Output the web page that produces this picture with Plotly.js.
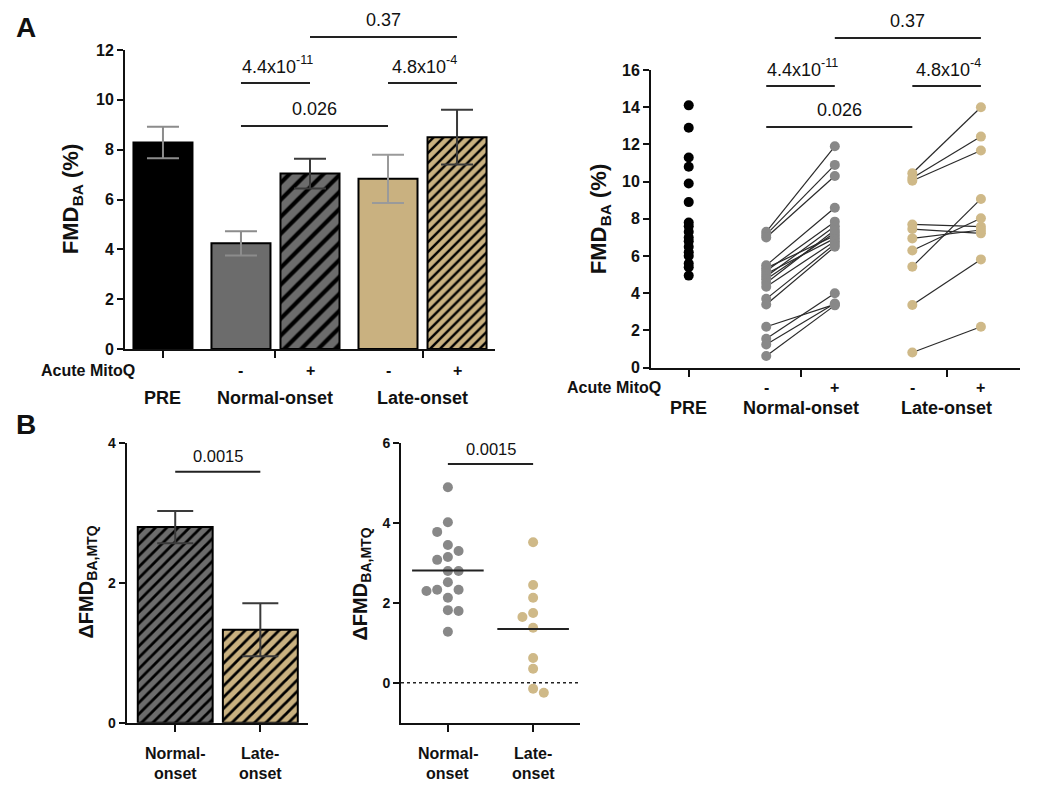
<!DOCTYPE html>
<html>
<head>
<meta charset="utf-8">
<script src="https://cdn.plot.ly/plotly-3.0.1.min.js"></script>
<style>html,body{margin:0;padding:0;background:#fff;}#chart{width:1048px;height:790px;}</style>
</head>
<body>
<div id="chart"></div>
<script>
// ---------------- DATA ----------------
const barGroups = ['PRE', 'Normal-onset', 'Normal-onset', 'Late-onset', 'Late-onset'];
const barMitoQ = ['', '-', '+', '-', '+'];
const barMeans = [8.29, 4.24, 7.04, 6.83, 8.50];
const barSEM = [0.63, 0.49, 0.60, 0.97, 1.10];

const preFMD = [14.1, 12.9, 11.3, 10.8, 9.9, 8.9, 7.8, 7.6, 7.3, 7.0, 6.8, 6.5, 6.2, 6.0, 5.6, 5.4, 4.95];
const normalMinus = [7.3, 7.15, 7.0, 5.5, 5.35, 5.2, 5.05, 4.9, 4.75, 4.55, 4.35, 3.7, 3.4, 2.2, 1.55, 1.25, 0.63];
const normalPlus = [11.9, 10.9, 10.3, 8.6, 7.1, 7.85, 6.95, 7.6, 7.25, 7.4, 6.8, 6.65, 6.5, 3.4, 4.0, 3.45, 3.35];
const lateMinus = [10.45, 10.2, 10.05, 7.7, 7.45, 6.95, 6.3, 5.43, 3.37, 0.82];
const latePlus = [14.0, 12.42, 11.67, 7.58, 7.22, 7.4, 8.03, 9.07, 5.82, 2.2];

const deltaGroupLines = [['Normal-', 'onset'], ['Late-', 'onset']];
const deltaBarMeans = [2.80, 1.33];
const deltaBarSEM = [0.23, 0.38];
const deltaNormal = [4.9, 4.02, 3.78, 3.45, 3.3, 3.15, 3.08, 2.8, 2.8, 2.52, 2.33, 2.33, 2.3, 2.13, 1.82, 1.8, 1.28];
const deltaLate = [3.52, 2.45, 2.13, 1.75, 1.65, 1.38, 0.62, 0.35, -0.15, -0.25];

// p-values: [base text, superscript]
const pA = [['0.37', ''], ['4.4x10', '-11'], ['4.8x10', '-4'], ['0.026', '']];
const pB = '0.0015';

// ---------------- LAYOUT HELPERS ----------------
const W = 1048, H = 790;
const FONT = 'Arial, "Liberation Sans", Helvetica, sans-serif';
const px = v => v / W;
const py = v => 1 - v / H;
const ctx = document.createElement('canvas').getContext('2d');
function textW(t, size, bold) { ctx.font = (bold ? 'bold ' : '') + size + 'px ' + FONT; return ctx.measureText(t).width; }

const xPos = [0, 1.13, 2.13, 3.26, 4.26];
const groupTick = [0, (xPos[1] + xPos[2]) / 2, (xPos[3] + xPos[4]) / 2];
const groupNames = ['PRE', 'Normal-onset', 'Late-onset'];
const pPairs = [[2, 4], [1, 2], [3, 4], [1, 3]];

const GRAY = '#6c6c6c', TAN = '#c9b180';
const GRAYDOT = '#888888', TANDOT = '#cfb988';
const barFill = ['#000000', GRAY, GRAY, TAN, TAN];
const barPattern = [0, 0, 12, 0, 7];
const errCol = ['#8c8c8c', '#8c8c8c', '#3a3a3a', '#9a9a9a', '#3a3a3a'];

const traces = [];
// Panel A left bars
for (let i = 0; i < barMeans.length; i++) {
  const m = {color: barFill[i], line: {color: '#000', width: 2}};
  if (barPattern[i]) m.pattern = {shape: '/', fgcolor: '#000', bgcolor: barFill[i], size: barPattern[i], solidity: 0.35, fillmode: 'replace'};
  traces.push({type: 'bar', x: [xPos[i]], y: [barMeans[i]], width: 0.855, xaxis: 'x', yaxis: 'y',
    marker: m, error_y: {type: 'data', array: [barSEM[i]], visible: true, color: errCol[i], thickness: 2, width: 16},
    showlegend: false, hoverinfo: 'skip'});
}
// Panel A right paired lines
function pairLines(a, b, xa, xb, axx, axy) {
  const xs = [], ys = [];
  for (let i = 0; i < a.length; i++) { xs.push(xa, xb, null); ys.push(a[i], b[i], null); }
  return {type: 'scatter', mode: 'lines', x: xs, y: ys, xaxis: axx, yaxis: axy,
    line: {color: '#2a2a2a', width: 1.2}, showlegend: false, hoverinfo: 'skip'};
}
traces.push(pairLines(normalMinus, normalPlus, xPos[1], xPos[2], 'x2', 'y2'));
traces.push(pairLines(lateMinus, latePlus, xPos[3], xPos[4], 'x2', 'y2'));
function dots(vals, xv, col, axx, axy, size) {
  return {type: 'scatter', mode: 'markers', x: vals.map(() => xv), y: vals, xaxis: axx, yaxis: axy,
    marker: {color: col, size: size}, cliponaxis: false, showlegend: false, hoverinfo: 'skip'};
}
traces.push(dots(preFMD, xPos[0], '#000', 'x2', 'y2', 10));
traces.push(dots(normalMinus, xPos[1], GRAYDOT, 'x2', 'y2', 10));
traces.push(dots(normalPlus, xPos[2], GRAYDOT, 'x2', 'y2', 10));
traces.push(dots(lateMinus, xPos[3], TANDOT, 'x2', 'y2', 10));
traces.push(dots(latePlus, xPos[4], TANDOT, 'x2', 'y2', 10));

// Panel B left bars
const bFill = [GRAY, TAN];
for (let i = 0; i < 2; i++) {
  traces.push({type: 'bar', x: [i], y: [deltaBarMeans[i]], width: 0.88, xaxis: 'x3', yaxis: 'y3',
    marker: {color: bFill[i], line: {color: '#000', width: 2},
      pattern: {shape: '/', fgcolor: '#000', bgcolor: bFill[i], size: 8, solidity: 0.35, fillmode: 'replace'}},
    error_y: {type: 'data', array: [deltaBarSEM[i]], visible: true, color: '#3a3a3a', thickness: 2, width: 18},
    showlegend: false, hoverinfo: 'skip'});
}

// Panel B right swarm
const bxDom = [401, 580], byDom = [443.3, 722.7], bxRange = [-0.55, 1.55], byRange = [-1, 6];
const pxPerX = (bxDom[1] - bxDom[0]) / (bxRange[1] - bxRange[0]);
const pxPerY = (byDom[1] - byDom[0]) / (byRange[1] - byRange[0]);
function swarm(vals, diam, step) {
  const order = vals.map((v, i) => i).sort((a, b) => vals[b] - vals[a]);
  const placed = [], offs = new Array(vals.length).fill(0);
  let flip = 1;
  for (const i of order) {
    const yp = vals[i] * pxPerY;
    for (let k = 0; k < 40; k++) {
      const c = k === 0 ? 0 : ((k % 2) ? -flip : flip) * Math.ceil(k / 2) * step;
      if (placed.every(p => Math.hypot(p.x - c, p.y - yp) >= diam)) {
        offs[i] = c / pxPerX; placed.push({x: c, y: yp});
        if (c !== 0) flip = -flip;
        break;
      }
    }
  }
  return offs;
}
const deltaSets = [deltaNormal, deltaLate];
const deltaCols = [GRAYDOT, TANDOT];
deltaSets.forEach((vals, g) => {
  const offs = swarm(vals, 9.8, 10.7);
  traces.push({type: 'scatter', mode: 'markers', x: offs.map(o => g + o), y: vals, xaxis: 'x4', yaxis: 'y4',
    marker: {color: deltaCols[g], size: 10}, cliponaxis: false, showlegend: false, hoverinfo: 'skip'});
  const mean = vals.reduce((a, b) => a + b, 0) / vals.length;
  traces.push({type: 'scatter', mode: 'lines', x: [g - 0.42, g + 0.42], y: [mean, mean], xaxis: 'x4', yaxis: 'y4',
    line: {color: '#222', width: 2}, showlegend: false, hoverinfo: 'skip'});
});

// ---------------- AXES ----------------
function xAx(dom, range, ticks) {
  return {domain: [px(dom[0]), px(dom[1])], range: range, showline: true, linecolor: '#111', linewidth: 2,
    ticks: 'outside', ticklen: 7, tickwidth: 2, tickcolor: '#111', tickvals: ticks, showticklabels: false,
    showgrid: false, zeroline: false, fixedrange: true};
}
function yAx(dom, range, vals, fs, anchor) {
  return {domain: [py(dom[1]), py(dom[0])], range: range, showline: true, linecolor: '#111', linewidth: 2,
    ticks: 'outside', ticklen: 6, tickwidth: 2, tickcolor: '#111', tickvals: vals, ticktext: vals.map(v => '<b>' + v + '</b>'),
    tickfont: {family: FONT, size: fs, color: '#111'}, showgrid: false, zeroline: false,
    anchor: anchor, fixedrange: true};
}
const layout = {
  width: W, height: H, margin: {l: 0, r: 0, t: 0, b: 0}, paper_bgcolor: '#fff', plot_bgcolor: 'rgba(0,0,0,0)',
  barmode: 'overlay', showlegend: false, font: {family: FONT, color: '#111'},
  xaxis: Object.assign(xAx([125, 495], [-0.55, 4.81], groupTick), {anchor: 'y'}),
  yaxis: yAx([50, 349], [0, 12], [0, 2, 4, 6, 8, 10, 12], 16, 'x'),
  xaxis2: Object.assign(xAx([651, 1020], [-0.55, 4.83], groupTick), {anchor: 'y2'}),
  yaxis2: yAx([70, 367.7], [0, 16], [0, 2, 4, 6, 8, 10, 12, 14, 16], 16, 'x2'),
  xaxis3: Object.assign(xAx([126.7, 308], [-0.57, 1.56], [0, 1]), {anchor: 'y3'}),
  yaxis3: yAx([443.3, 722.7], [0, 4], [0, 2, 4], 14, 'x3'),
  xaxis4: Object.assign(xAx(bxDom, bxRange, [0, 1]), {anchor: 'y4'}),
  yaxis4: yAx(byDom, byRange, [0, 2, 4, 6], 14, 'x4'),
  shapes: [], annotations: []
};

function ann(text, x, y, xref, size, bold, extra) {
  return Object.assign({text: bold ? '<b>' + text + '</b>' : text, x: x, y: y, xref: xref, yref: 'paper',
    showarrow: false, xanchor: 'center', yanchor: 'middle', font: {family: FONT, size: size, color: '#111'}}, extra || {});
}
function sigBar(xr, x0, x1, lineY, textY, base, sup, size) {
  layout.shapes.push({type: 'line', xref: xr, yref: 'paper', x0: x0, x1: x1, y0: py(lineY), y1: py(lineY),
    line: {color: '#222', width: 2}});
  const xc = (x0 + x1) / 2;
  if (!sup) { layout.annotations.push(ann(base, xc, py(textY), xr, size, false)); return; }
  const supSize = size * 0.7;
  const wb = textW(base, size, false), ws = textW(sup, supSize, false);
  const start = -(wb + ws) / 2;
  layout.annotations.push(ann(base, xc, py(textY), xr, size, false, {xanchor: 'left', xshift: start}));
  layout.annotations.push(ann(sup, xc, py(textY), xr, supSize, false, {xanchor: 'left', xshift: start + wb, yshift: 7}));
}
// Panel A significance bars (left & right)
const lineYL = [37, 83, 83, 126], textYL = [20, 67, 67, 109];
const lineYR = [38, 86, 86, 127], textYR = [21, 70, 70, 110];
pPairs.forEach((p, k) => {
  sigBar('x', xPos[p[0]], xPos[p[1]], lineYL[k], textYL[k], pA[k][0], pA[k][1], 18);
  sigBar('x2', xPos[p[0]], xPos[p[1]], lineYR[k], textYR[k], pA[k][0], pA[k][1], 18);
});
// Panel B significance bars
sigBar('x3', 0, 1, 471.7, 456, pB, '', 16.5);
sigBar('x4', 0, 1, 464, 449, pB, '', 16.5);
// zero dotted line
layout.shapes.push({type: 'line', xref: 'x4', yref: 'y4', x0: bxRange[0], x1: bxRange[1], y0: 0, y1: 0,
  line: {color: '#222', width: 1.5, dash: 'dot'}});

// Category labels panel A
[['x', 88, 370, 398], ['x2', 614, 388, 408]].forEach(([xr, acx, rowY, grpY]) => {
  layout.annotations.push(ann('Acute MitoQ', px(acx), py(rowY), 'paper', 16, true));
  barMitoQ.forEach((s, i) => { if (s) layout.annotations.push(ann(s, xPos[i], py(rowY), xr, 16, true)); });
  groupNames.forEach((g, i) => layout.annotations.push(ann(g, groupTick[i], py(grpY), xr, 18, true)));
});
// Category labels panel B (two lines each)
deltaGroupLines.forEach((lines, i) => {
  lines.forEach((t, j) => {
    layout.annotations.push(ann(t, i, py(753 + 20 * j), 'x3', 16, true));
    layout.annotations.push(ann(t, i, py(753 + 20 * j), 'x4', 16, true));
  });
});
// Rotated axis titles with subscripts, built from pieces along a vertical line
function vTitle(main, sub, tail, cx, cy, size, subShift) {
  const subSize = size * 0.7;
  const wm = textW(main, size, true), ws = textW(sub, subSize, true);
  const wt = tail ? textW(' ' + tail, size, true) : 0;
  const wtail = tail ? textW(tail, size, true) : 0;
  let y = cy + (wm + ws + wt) / 2; // bottom end (text reads upward)
  const add = (t, s, w, dx) => {
    layout.annotations.push(ann(t, px(cx + dx), py(y - w / 2), 'paper', s, true, {textangle: -90}));
    y -= w;
  };
  add(main, size, wm, 0);
  add(sub, subSize, ws, subShift);
  if (tail) { y -= (wt - wtail); add(tail, size, wtail, 0); }
}
vTitle('FMD', 'BA', '(%)', 70, 199, 22, 7);
vTitle('FMD', 'BA', '(%)', 598, 219, 22, 7);
vTitle('ΔFMD', 'BA,MTQ', '', 86, 582, 20, 6.5);
vTitle('ΔFMD', 'BA,MTQ', '', 360, 584, 20, 6.5);
// Panel letters
layout.annotations.push(ann('A', px(26), py(28), 'paper', 28, true));
layout.annotations.push(ann('B', px(26), py(424), 'paper', 28, true));

Plotly.newPlot('chart', traces, layout, {displayModeBar: false, staticPlot: true});
</script>
</body>
</html>
